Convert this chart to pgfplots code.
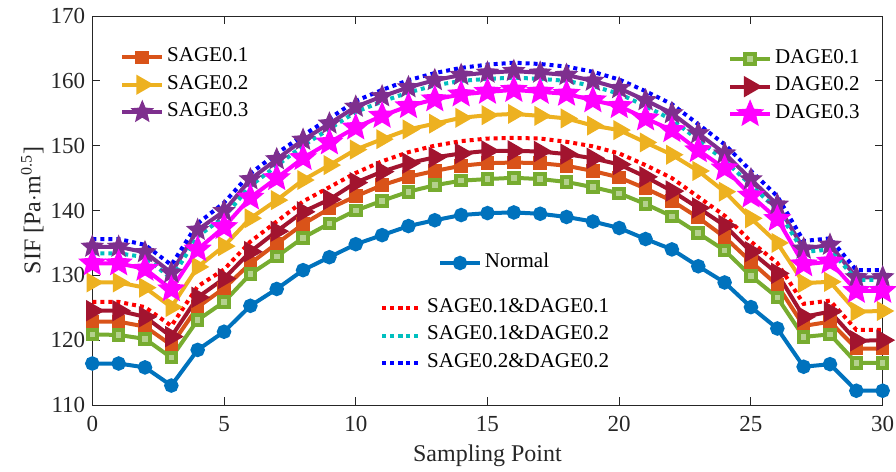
\documentclass[border=0pt]{standalone}
\usepackage{fontspec}
\setmainfont{Liberation Serif}
\usepackage{pgfplots}
\usepackage{pgfplotstable}
\pgfplotsset{compat=1.18}

\definecolor{cN}{HTML}{0072BD}
\definecolor{cS1}{HTML}{D95319}
\definecolor{cS2}{HTML}{EDB120}
\definecolor{cS3}{HTML}{7E2F8E}
\definecolor{cD1}{HTML}{77AC30}
\definecolor{cD2}{HTML}{A2142F}
\definecolor{cD3}{HTML}{FF00FF}
\definecolor{cR}{HTML}{FF0000}
\definecolor{cC}{HTML}{00BFBF}
\definecolor{cB}{HTML}{0000FF}
\definecolor{axgray}{HTML}{262626}

% filled five-point star
\pgfdeclareplotmark{fstar}{%
  \pgfpathmoveto{\pgfpointpolar{90}{\pgfplotmarksize}}%
  \pgfpathlineto{\pgfpointpolar{126}{0.45\pgfplotmarksize}}%
  \pgfpathlineto{\pgfpointpolar{162}{\pgfplotmarksize}}%
  \pgfpathlineto{\pgfpointpolar{198}{0.45\pgfplotmarksize}}%
  \pgfpathlineto{\pgfpointpolar{234}{\pgfplotmarksize}}%
  \pgfpathlineto{\pgfpointpolar{270}{0.45\pgfplotmarksize}}%
  \pgfpathlineto{\pgfpointpolar{306}{\pgfplotmarksize}}%
  \pgfpathlineto{\pgfpointpolar{342}{0.45\pgfplotmarksize}}%
  \pgfpathlineto{\pgfpointpolar{18}{\pgfplotmarksize}}%
  \pgfpathlineto{\pgfpointpolar{54}{0.45\pgfplotmarksize}}%
  \pgfpathclose
  \pgfusepathqfillstroke
}

% x, Normal, DAGE0.1, SAGE0.1, DAGE0.2, S0.1&D0.1, SAGE0.2, DAGE0.3, S0.1&D0.2, SAGE0.3, S0.2&D0.2
\pgfplotstableread{
x N D1 S1 D2 SD11 S2 D3 SD12 S3 SD22
0 116.4 120.9 122.85 124.55 125.9 128.9 131.85 133.4 134.4 135.6
1 116.4 120.8 122.85 124.55 125.9 128.9 131.85 133.4 134.4 135.6
2 115.8 120.2 122.1 123.6 125.1 128.1 131.0 132.8 133.55 134.7
3 113.0 117.3 119.25 120.55 122.2 125.1 127.85 129.5 130.4 131.6
4 118.5 123.1 125.1 126.6 128.3 131.3 134.0 136.0 137.0 138.0
5 121.3 125.9 128.0 129.5 130.9 134.5 137.45 139.0 139.9 141.2
6 125.3 130.2 131.85 133.65 135.2 138.8 142.0 143.8 144.8 145.7
7 127.9 132.9 134.9 136.8 138.3 141.6 145.0 146.9 147.9 148.8
8 130.8 135.8 137.9 139.8 141.4 144.7 148.1 150.0 150.9 151.6
9 132.8 138.0 140.3 141.7 143.6 147.0 150.5 152.6 153.4 154.2
10 134.8 140.0 142.2 144.3 145.8 149.4 152.8 155.2 156.0 156.9
11 136.2 141.5 143.9 146.0 147.6 151.0 154.6 156.8 157.6 158.6
12 137.6 142.9 145.2 147.3 149.0 152.5 156.1 158.2 159.0 160.1
13 138.5 143.9 146.1 148.2 150.0 153.4 157.15 159.3 160.1 161.2
14 139.3 144.6 146.9 148.8 150.7 154.3 157.9 160.0 160.9 162.0
15 139.6 144.85 147.3 149.2 151.1 154.7 158.3 160.3 161.25 162.5
16 139.7 145.05 147.4 149.2 151.2 154.9 158.6 160.5 161.5 162.8
17 139.5 144.85 147.3 149.1 151.1 154.6 158.3 160.3 161.25 162.6
18 139.0 144.4 146.9 148.7 150.6 154.2 158.0 160.0 160.9 162.2
19 138.3 143.6 146.1 148.05 149.9 153.1 157.0 159.2 160.0 161.4
20 137.3 142.65 145.1 147.1 148.8 152.4 156.1 158.0 158.85 160.2
21 135.6 141.0 143.4 145.2 147.0 150.5 154.2 156.1 157.0 158.4
22 134.0 139.1 141.5 143.0 145.0 148.6 152.4 154.0 155.0 156.4
23 131.4 136.5 138.9 140.4 142.1 146.1 149.3 150.9 151.9 153.3
24 128.9 133.85 135.9 137.7 139.2 142.9 146.5 147.7 148.8 150.2
25 125.1 129.9 132.1 133.65 135.2 138.8 142.3 143.9 144.8 146.1
26 121.8 126.6 128.5 130.3 131.9 135.0 138.7 140.1 140.9 142.2
27 115.9 120.5 122.2 123.6 125.6 128.8 131.7 133.6 134.1 135.3
28 116.3 120.9 122.85 124.4 126.1 129.0 132.1 134.0 134.7 135.7
29 112.2 116.5 118.7 119.9 121.6 124.4 127.6 129.3 129.7 130.8
30 112.2 116.5 118.7 120.0 121.6 124.5 127.6 129.3 129.7 130.8
}\sifdata

\pgfplotsset{
  frame/.style={scale only axis, width=395.2pt, height=194.5pt,
    at={(0,0)}, anchor=south west},
  sline/.style={line width=2pt, mark options={solid, line width=0.4pt}},
  dline/.style={line width=2pt, dash pattern=on 2pt off 2pt},
  leg/.style={hide axis, frame, xmin=0, xmax=1, ymin=0, ymax=1,
    legend image code/.code={%
      \draw[mark repeat=2,mark phase=2] plot coordinates {(0cm,0cm) (0.35cm,0cm) (0.7cm,0cm)};},
    legend style={draw=none, fill=none, inner xsep=0pt, inner ysep=0pt,
      font=\fontsize{10.5}{12}\selectfont, row sep=0pt,
      nodes={inner sep=1.5pt, text height=7.5pt, text depth=3.2pt},
      cells={anchor=west}}},
}

\begin{document}
\begin{tikzpicture}
\path[use as bounding box] (-46.15pt,-33.5pt) rectangle (401.85pt,202.5pt);
\begin{axis}[
    frame,
    xmin=0, xmax=30, ymin=110, ymax=170,
    xtick={0,5,...,30}, ytick={110,120,...,170},
    tick align=inside, major tick length=4pt,
    axis line style={axgray, line width=0.5pt},
    tick style={axgray, line width=0.5pt},
    ticklabel style={font=\fontsize{11.5}{13}\selectfont, text=axgray},
    /pgf/number format/assume math mode=true,
    xticklabel style={yshift=-2pt},
    xlabel={Sampling Point},
    ylabel={SIF [Pa$\cdot$m\textsuperscript{0.5}]},
    label style={font=\fontsize{12}{14}\selectfont, text=axgray},
    xlabel style={at={(axis description cs:0.5,-0.131)}, anchor=center},
    ylabel style={at={(axis description cs:-0.076,0.5)}, anchor=center},
    clip=false,
]
\addplot[sline, cN, mark=*, mark size=2.6pt, mark options={fill=cN}] table[x=x, y=N] {\sifdata};
\addplot[sline, cS1, mark=square*, mark size=2.4pt, mark options={fill=cS1}] table[x=x, y=S1] {\sifdata};
\addplot[sline, cS2, mark=triangle*, mark size=3.8pt, mark options={fill=cS2, rotate=-90}] table[x=x, y=S2] {\sifdata};
\addplot[sline, cS3, mark=fstar, mark size=3.6pt, mark options={fill=cS3}] table[x=x, y=S3] {\sifdata};
\addplot[sline, cD1, mark=square*, mark size=2.4pt, mark options={fill=cD1!55!white}] table[x=x, y=D1] {\sifdata};
\addplot[sline, cD2, mark=triangle*, mark size=4.2pt, mark options={fill=cD2, rotate=-90}] table[x=x, y=D2] {\sifdata};
\addplot[sline, cD3, mark=fstar, mark size=4.8pt, mark options={fill=cD3}] table[x=x, y=D3] {\sifdata};
\addplot[dline, cR] table[x=x, y=SD11] {\sifdata};
\addplot[dline, cC] table[x=x, y=SD12] {\sifdata};
\addplot[dline, cB] table[x=x, y=SD22] {\sifdata};
\end{axis}

% legend groups
\begin{axis}[leg, legend style={at={(0.035,0.93)}, anchor=north west}]
\addlegendimage{sline, cS1, mark=square*, mark size=2.4pt, mark options={fill=cS1}}
\addlegendentry{SAGE0.1}
\addlegendimage{sline, cS2, mark=triangle*, mark size=3.8pt, mark options={fill=cS2, rotate=-90}}
\addlegendentry{SAGE0.2}
\addlegendimage{sline, cS3, mark=fstar, mark size=3.6pt, mark options={fill=cS3}}
\addlegendentry{SAGE0.3}
\end{axis}
\begin{axis}[leg, legend style={at={(0.804,0.925)}, anchor=north west}]
\addlegendimage{sline, cD1, mark=square*, mark size=2.4pt, mark options={fill=cD1!55!white}}
\addlegendentry{DAGE0.1}
\addlegendimage{sline, cD2, mark=triangle*, mark size=4.2pt, mark options={fill=cD2, rotate=-90}}
\addlegendentry{DAGE0.2}
\addlegendimage{sline, cD3, mark=fstar, mark size=4.8pt, mark options={fill=cD3}}
\addlegendentry{DAGE0.3}
\end{axis}
\begin{axis}[leg, legend style={at={(0.437,0.365)}, anchor=west}]
\addlegendimage{sline, cN, mark=*, mark size=2.6pt, mark options={fill=cN}}
\addlegendentry{Normal}
\end{axis}
\begin{axis}[leg, legend style={at={(0.364,0.285)}, anchor=north west}]
\addlegendimage{dline, cR}
\addlegendentry{SAGE0.1\&DAGE0.1}
\addlegendimage{dline, cC}
\addlegendentry{SAGE0.1\&DAGE0.2}
\addlegendimage{dline, cB}
\addlegendentry{SAGE0.2\&DAGE0.2}
\end{axis}
\end{tikzpicture}
\end{document}
